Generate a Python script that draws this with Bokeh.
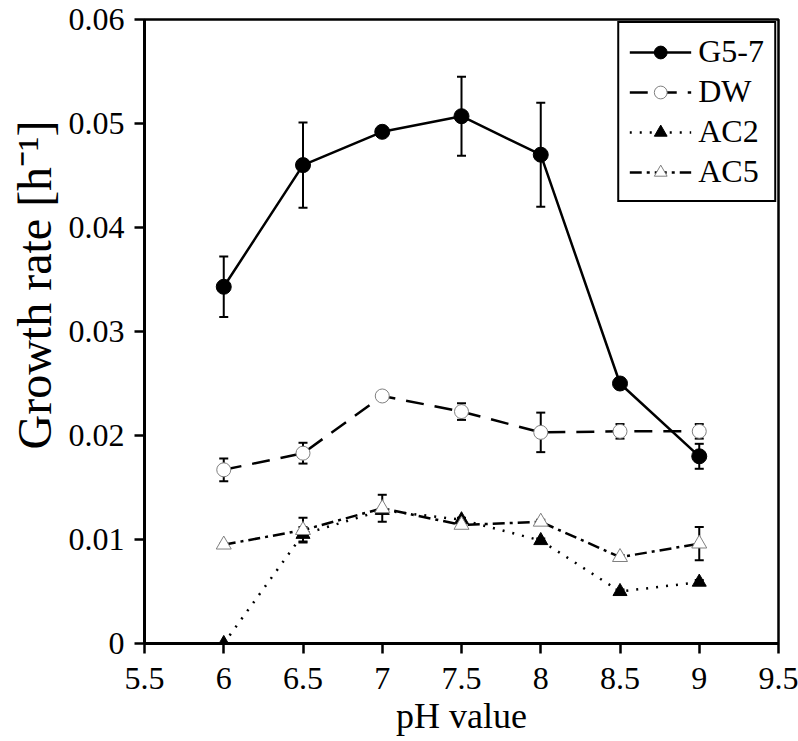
from bokeh.plotting import figure
from bokeh.models import ColumnDataSource, Whisker, TeeHead, FixedTicker, Title
from bokeh.embed import file_html
from bokeh.resources import INLINE

# ---- data ----
ph = [6.0, 6.5, 7.0, 7.5, 8.0, 8.5, 9.0]

g57 = [0.0343, 0.0460, 0.0492, 0.0507, 0.0470, 0.0250, 0.0180]
g57_err = [0.0029, 0.0041, 0.0002, 0.0038, 0.0050, 0.0003, 0.0012]

dw = [0.0167, 0.0183, 0.0238, 0.0223, 0.0203, 0.0204, 0.0204]
dw_err = [0.0011, 0.0010, 0.0003, 0.0008, 0.0019, 0.0007, 0.0007]

ac2 = [0.0000, 0.0105, 0.0128, 0.0119, 0.0099, 0.0050, 0.0059]
ac2_err = [0.0000, 0.0007, 0.0000, 0.0002, 0.0002, 0.0002, 0.0002]

ac5 = [0.0095, 0.0109, 0.0130, 0.0114, 0.0117, 0.0083, 0.0096]
ac5_err = [0.0001, 0.0012, 0.0013, 0.0003, 0.0002, 0.0002, 0.0016]

x_ticks = [5.5, 6.0, 6.5, 7.0, 7.5, 8.0, 8.5, 9.0, 9.5]
x_tick_labels = ["5.5", "6", "6.5", "7", "7.5", "8", "8.5", "9", "9.5"]
y_ticks = [0.0, 0.01, 0.02, 0.03, 0.04, 0.05, 0.06]
y_tick_labels = ["0", "0.01", "0.02", "0.03", "0.04", "0.05", "0.06"]

x_title = "pH value"
y_title = "Growth rate [h\u207b\u00b9]"
series_names = ["G5-7", "DW", "AC2", "AC5"]

FONT = "Liberation Serif"

p = figure(width=798, height=741, x_range=(5.5, 9.5), y_range=(0.0, 0.06),
           output_backend="svg", toolbar_location=None,
           min_border_left=143, min_border_right=20,
           min_border_top=19, min_border_bottom=98)
p.background_fill_color = "white"
p.border_fill_color = "white"
p.xgrid.visible = False
p.ygrid.visible = False
p.outline_line_color = "black"
p.outline_line_width = 2.5

for ax, ticks, labels in ((p.xaxis[0], x_ticks, x_tick_labels),
                          (p.yaxis[0], y_ticks, y_tick_labels)):
    ax.ticker = FixedTicker(ticks=ticks)
    ax.major_label_overrides = {t: l for t, l in zip(ticks, labels)}
    ax.minor_tick_line_color = None
    ax.major_tick_in = 0
    ax.major_tick_out = 10
    ax.major_tick_line_width = 2.5
    ax.axis_line_width = 3
    ax.axis_line_color = "black"
    ax.major_tick_line_color = "black"
    ax.major_label_text_font = FONT
    ax.major_label_text_font_size = "32px"
    ax.major_label_text_color = "black"
p.yaxis[0].major_label_standoff = 10
p.xaxis[0].major_label_standoff = 14

p.xaxis[0].axis_label = x_title
p.xaxis[0].axis_label_text_font = FONT
p.xaxis[0].axis_label_text_font_size = "36px"
p.xaxis[0].axis_label_text_font_style = "normal"
p.xaxis[0].axis_label_text_color = "black"
p.xaxis[0].axis_label_standoff = 4

p.add_layout(Title(text=y_title, align="right", offset=101, standoff=10,
                   text_font=FONT, text_font_size="48px",
                   text_font_style="normal", text_color="black"), "left")


def add_err(vals, errs, color="black"):
    src = ColumnDataSource(dict(base=ph,
                                upper=[v + e for v, e in zip(vals, errs)],
                                lower=[v - e for v, e in zip(vals, errs)]))
    w = Whisker(source=src, base="base", upper="upper", lower="lower",
                line_color=color, line_width=2,
                upper_head=TeeHead(size=9, line_width=2, line_color=color),
                lower_head=TeeHead(size=9, line_width=2, line_color=color))
    p.add_layout(w)


# G5-7
p.line(ph, g57, line_color="black", line_width=2.5, legend_label=series_names[0])
p.scatter(ph, g57, marker="circle", size=15, fill_color="black",
          line_color="black", legend_label=series_names[0])
# DW
p.line(ph, dw, line_color="black", line_width=2.5, line_dash="18 11",
       legend_label=series_names[1])
p.scatter(ph, dw, marker="circle", size=14, fill_color="white",
          line_color="#808080", line_width=1, legend_label=series_names[1])
# AC2
p.line(ph, ac2, line_color="black", line_width=2.5, line_dash="2 8",
       legend_label=series_names[2])
p.scatter(ph, ac2, marker="triangle", size=14, fill_color="black",
          line_color="black", legend_label=series_names[2])
# AC5
p.line(ph, ac5, line_color="black", line_width=2.5, line_dash="12 5 3 5",
       legend_label=series_names[3])
p.scatter(ph, ac5, marker="triangle", size=15, fill_color="white",
          line_color="#808080", line_width=1, legend_label=series_names[3])

add_err(g57, g57_err)
add_err(dw, dw_err)
add_err(ac2, ac2_err)
add_err(ac5, ac5_err)

lg = p.legend[0]
lg.location = "top_right"
lg.margin = 2
lg.padding = 10
lg.spacing = 3
lg.glyph_width = 62
lg.glyph_height = 32
lg.label_height = 32
lg.label_standoff = 7
lg.label_text_font = FONT
lg.label_text_font_size = "32px"
lg.label_text_color = "black"
lg.border_line_color = "black"
lg.border_line_alpha = 1.0
lg.border_line_width = 2.5
lg.background_fill_color = "white"
lg.background_fill_alpha = 1.0

open("out.html", "w").write(file_html(p, INLINE))
